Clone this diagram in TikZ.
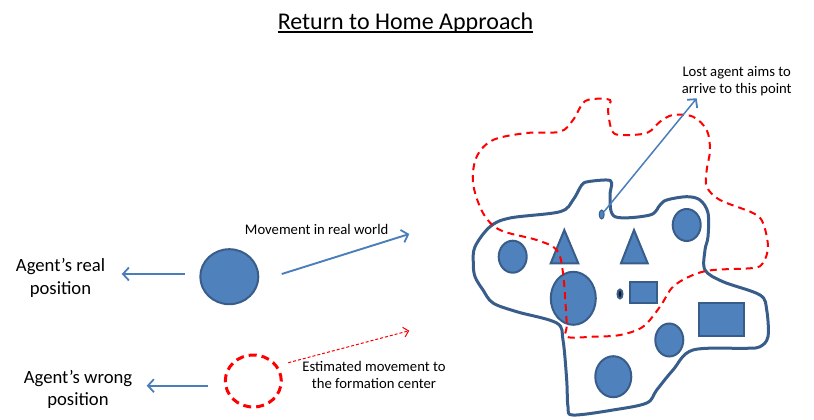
\documentclass[tikz,border=0pt]{standalone}
\usepackage{fontspec}
\setmainfont{Carlito}
\usetikzlibrary{arrows.meta,shapes.geometric}
\definecolor{bfill}{HTML}{4F81BD}
\definecolor{bline}{HTML}{385D8A}
\definecolor{barrow}{HTML}{4A7EBB}
\tikzset{
  obj/.style={fill=bfill,draw=bline,line width=2pt},
  ell/.style={obj,ellipse,inner sep=0pt},
  tri/.style={obj},
  blue arrow/.style={draw=barrow,line width=1.9pt,-{Straight Barb[length=6pt,width=13pt,line width=1.8pt]}},
  lbl/.style={align=center,inner sep=0pt,font=\fontsize{14.67}{17}\selectfont},
  biglbl/.style={align=center,inner sep=0pt,font=\fontsize{18.67}{22.5}\selectfont},
}
\begin{document}
\begin{tikzpicture}[x=1pt,y=-1pt]
\useasboundingbox (0,0) rectangle (814,420);
% title
\node[inner sep=0pt,font=\fontsize{24}{28}\selectfont] (title) at (405.5,23) {Return to Home Approach};
\draw[line width=1.8pt] ([yshift=-3pt]title.base west) -- ([yshift=-3pt]title.base east);

% formation outline (solid)
\draw[bline,line width=3pt] plot[smooth cycle,tension=0.55] coordinates {
(473.3,263.3) (475,246.7) (490,226.7) (510,218) (560,211.7) (573,200) (581.7,185) (588,181.7)
(606.7,180) (611.7,183) (610,196.7) (615,216.7) (650,215) (660,205) (666.7,200) (686.7,196.7)
(700,200) (708,213) (708,236.7) (705,250) (705,270) (723,281.7) (760,295) (766.7,310)
(768,336.7) (760,346.7) (746.7,348.3) (693,350) (673,370) (656.7,390) (646.7,403) (613,410)
(573,415) (568,406.7) (566.7,380) (563,340) (556.7,323) (516.7,311.7) (493,303) (483,290) (475,276.7)};

% formation shapes
\node[ell,minimum width=28pt,minimum height=32pt] (e1) at (512.7,256.7) {};
\node[ell,minimum width=28pt,minimum height=32pt] (e2) at (686.7,225) {};
\node[ell,minimum width=45pt,minimum height=53pt] (e3) at (573.3,298.3) {};
\node[ell,minimum width=28pt,minimum height=33pt] (e4) at (669.3,340) {};
\node[ell,minimum width=36pt,minimum height=41pt] (e5) at (613.3,376.7) {};
\node[ell,fill=black!70!bline,minimum width=5pt,minimum height=9pt] (d1) at (620,294) {};
\node[ell,minimum width=5pt,minimum height=9pt,line width=1pt] (d2) at (601.7,214.5) {};
\draw[tri] (564.3,230) -- (578.3,263.3) -- (550.7,263.3) -- cycle;
\draw[tri] (634,230) -- (647.7,263.3) -- (621,263.3) -- cycle;
\draw[obj] (630,282.3) rectangle (657.3,303.3);
\draw[obj] (699,303.3) rectangle (744,335.7);

% estimated formation (dashed red)
\draw[red,line width=2pt,dash pattern=on 7pt off 5pt] plot[smooth cycle,tension=0.55] coordinates {
(566.7,336.7) (566.7,323) (563,273) (556.7,250) (536.7,240) (500,230) (483,213) (473,183)
(476.7,156.7) (493,140) (526.7,133) (560,131.7) (573,120) (583,103) (593,99) (610,100)
(608,110) (611.7,130) (620,135) (646.7,133) (660,121.7) (673,115) (693,116.7) (706.7,130)
(710,150) (706.7,170) (706.7,186.7) (720,200) (753,213) (763,223) (768,246.7) (763,263)
(753,268) (713,270) (693,275) (673,286.7) (660,306.7) (643,326.7) (620,335) (593,336.7)};

% target point
\coordinate (target) at (696.7,98.3);
\draw[blue arrow,line width=1.5pt] (d2) -- (target);
\node[lbl] (lost) at (736.7,81) {Lost agent aims to\\arrive to this point};

% real agent
\node[ell,minimum width=58pt,minimum height=55pt] (real) at (229.3,276.7) {};
\coordinate (realL) at (121.7,274);
\coordinate (realR) at (409.3,234);
\draw[blue arrow] (185,274) -- (realL);
\draw[blue arrow] (281.7,274) -- (realR);
\node[lbl] (mvreal) at (316.7,229.5) {Movement in real world};
\node[biglbl] (reallbl) at (60.5,278) {Agent’s real\\position};

% wrong agent
\node[ellipse,draw=red,line width=3pt,dash pattern=on 8pt off 5pt,minimum width=56pt,minimum height=52pt,inner sep=0pt] (wrong) at (253.3,381) {};
\coordinate (wrongL) at (146.7,385.7);
\coordinate (wrongR) at (409.3,330.7);
\draw[blue arrow] (208.3,385.7) -- (wrongL);
\draw[red,line width=1pt,dash pattern=on 3pt off 2pt,-{Straight Barb[length=5pt,width=10pt,line width=1pt]}] (288.3,362.7) -- (wrongR);
\node[lbl] (est) at (374,374.5) {Estimated movement to\\the formation center};
\node[biglbl] (wronglbl) at (78,389.5) {Agent’s wrong\\position};
\end{tikzpicture}
\end{document}
